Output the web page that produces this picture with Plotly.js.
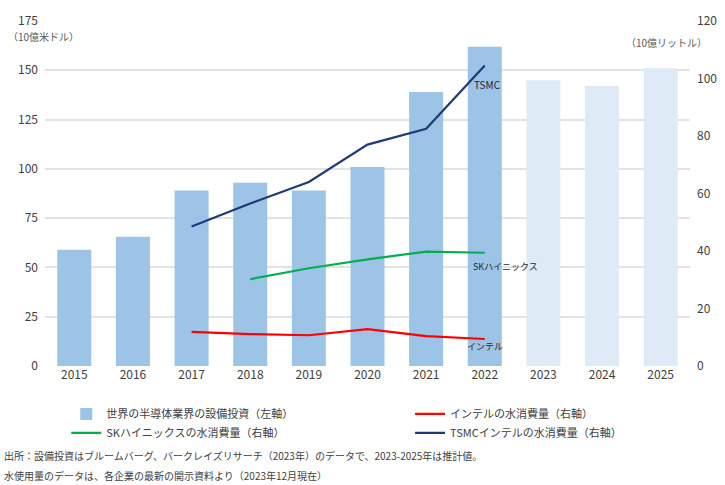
<!DOCTYPE html>
<html>
<head>
<meta charset="utf-8">
<script src="https://cdn.plot.ly/plotly-3.0.1.min.js"></script>
<style>body{margin:0;background:#fff}#chart{width:725px;height:485px}</style>
</head>
<body>
<div id="chart"></div>
<script>
// 設備投資 (10億米ドル), 2023-2025 は推計値
var years = ['2015','2016','2017','2018','2019','2020','2021','2022','2023','2024','2025'];
var capex = [59, 65.5, 89, 93, 89, 101, 139, 162, 145, 142, 151];
var capexColors = ['#9dc3e6','#9dc3e6','#9dc3e6','#9dc3e6','#9dc3e6','#9dc3e6','#9dc3e6','#9dc3e6','#deebf7','#deebf7','#deebf7'];

// 水消費量 (10億リットル)
var tsmcYears = ['2017','2018','2019','2020','2021','2022'];
var tsmcWater = [48.5, 56.5, 64, 77, 82.5, 104.5];
var skYears = ['2018','2019','2020','2021','2022'];
var skWater = [30.2, 34, 37.1, 39.8, 39.4];
var intelYears = ['2017','2018','2019','2020','2021','2022'];
var intelWater = [11.9, 11.1, 10.7, 12.8, 10.4, 9.4];

var font = 'Noto Sans CJK JP, Noto Sans, sans-serif';
var lastIdx = years.indexOf('2022');

var traceCapex = {
    x: years,
    y: capex,
    name: '世界の半導体業界の設備投資（左軸）',
    type: 'bar',
    marker: {color: capexColors},
    legend: 'legend'
};

var traceIntel = {
    x: intelYears,
    y: intelWater,
    name: 'インテルの水消費量（右軸）',
    type: 'scatter',
    mode: 'lines',
    yaxis: 'y2',
    line: {color: '#ff0000', width: 2.2},
    legend: 'legend2'
};

var traceSK = {
    x: skYears,
    y: skWater,
    name: 'SKハイニックスの水消費量（右軸）',
    type: 'scatter',
    mode: 'lines',
    yaxis: 'y2',
    line: {color: '#00b050', width: 2.2},
    legend: 'legend'
};

var traceTSMC = {
    x: tsmcYears,
    y: tsmcWater,
    name: 'TSMCインテルの水消費量（右軸）',
    type: 'scatter',
    mode: 'lines',
    yaxis: 'y2',
    line: {color: '#1f3a78', width: 2.2},
    legend: 'legend2'
};

var data_plot = [traceCapex, traceIntel, traceSK, traceTSMC];

var legendStyle = function (xpos) {
    return {
        orientation: 'v',
        x: xpos,
        xanchor: 'left',
        y: -0.097,
        yanchor: 'top',
        tracegroupgap: 0,
        itemwidth: 30,
        bgcolor: 'rgba(0,0,0,0)',
        font: {size: 11, color: '#404040'}
    };
};

var layout = {
    width: 725,
    height: 485,
    margin: {l: 45, r: 35, t: 21, b: 119},
    paper_bgcolor: '#ffffff',
    plot_bgcolor: '#ffffff',
    font: {family: font, size: 12, color: '#404040'},
    bargap: 0.42,
    showlegend: true,
    xaxis: {
        type: 'category',
        categoryorder: 'array',
        categoryarray: years,
        range: [-0.5, years.length - 0.5],
        showgrid: false,
        showline: false,
        ticks: '',
        tickfont: {size: 12, color: '#404040'}
    },
    yaxis: {
        range: [0, 175],
        dtick: 25,
        gridcolor: '#e3e3e3',
        gridwidth: 1.5,
        zeroline: false,
        showline: false,
        ticklabelstandoff: 6,
        tickfont: {size: 12, color: '#404040'}
    },
    yaxis2: {
        overlaying: 'y',
        side: 'right',
        range: [0, 120],
        dtick: 20,
        showgrid: false,
        zeroline: false,
        showline: false,
        ticklabelstandoff: 6,
        tickfont: {size: 12, color: '#404040'}
    },
    legend: legendStyle(0.033),
    legend2: legendStyle(0.566),
    annotations: [
        {text: '（10億米ドル）', xref: 'paper', yref: 'paper', x: -0.06, y: 0.955, xanchor: 'left', yanchor: 'middle', showarrow: false, font: {size: 10, color: '#595959'}},
        {text: '（10億リットル）', xref: 'paper', yref: 'paper', x: 1.03, y: 0.937, xanchor: 'right', yanchor: 'middle', showarrow: false, font: {size: 10, color: '#595959'}},
        {text: 'TSMC', x: lastIdx, y: 98, yref: 'y2', xanchor: 'center', xshift: 3, showarrow: false, font: {size: 10, color: '#262626'}},
        {text: 'SKハイニックス', x: lastIdx, y: 34.5, yref: 'y2', xanchor: 'left', xshift: -14, showarrow: false, font: {size: 9, color: '#262626'}},
        {text: 'インテル', x: lastIdx, y: 6.8, yref: 'y2', xanchor: 'left', xshift: -20, showarrow: false, font: {size: 9, color: '#262626'}},
        {text: '出所：設備投資はブルームバーグ、バークレイズリサーチ（2023年）のデータで、2023-2025年は推計値。', xref: 'paper', yref: 'paper', x: -0.066, y: -0.258, xanchor: 'left', yanchor: 'middle', showarrow: false, font: {size: 10, color: '#404040'}},
        {text: '水使用量のデータは、各企業の最新の開示資料より（2023年12月現在）', xref: 'paper', yref: 'paper', x: -0.066, y: -0.316, xanchor: 'left', yanchor: 'middle', showarrow: false, font: {size: 10, color: '#404040'}}
    ]
};

Plotly.newPlot('chart', data_plot, layout, {displayModeBar: false});
</script>
</body>
</html>
